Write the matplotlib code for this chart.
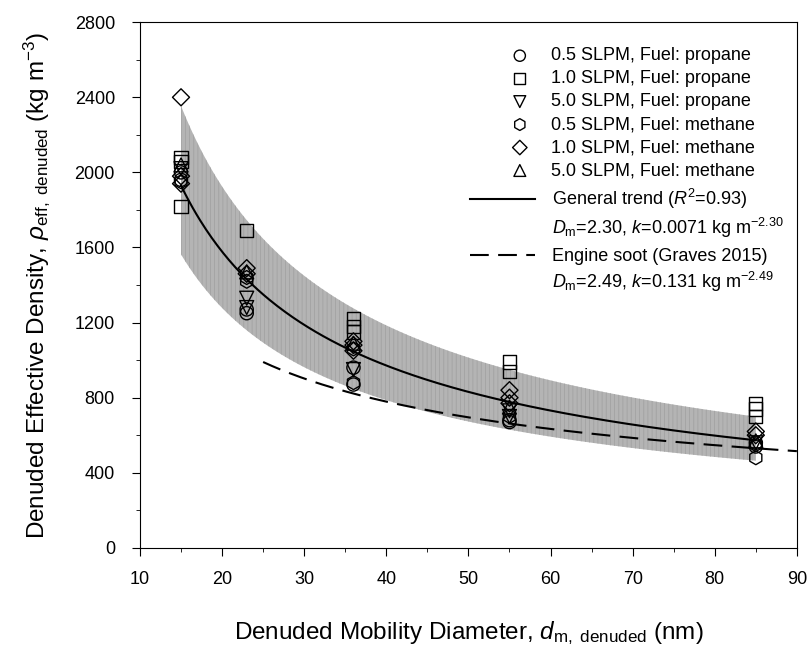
import numpy as np
import matplotlib
matplotlib.use("Agg")
import matplotlib.pyplot as plt
from matplotlib.ticker import MultipleLocator
from matplotlib.lines import Line2D

plt.rcParams['font.family'] = ['Liberation Sans', 'DejaVu Sans']
plt.rcParams['mathtext.fontset'] = 'custom'
plt.rcParams['mathtext.rm'] = 'Liberation Sans'
plt.rcParams['mathtext.it'] = 'Liberation Sans:italic'
plt.rcParams['mathtext.bf'] = 'Liberation Sans:bold'
plt.rcParams['hatch.linewidth'] = 0.6

# ---- data ----
circ_x = [15, 15, 23, 23, 36, 36, 55, 55, 85, 85]
circ_y = [2000, 1960, 1250, 1270, 960, 870, 680, 670, 560, 540]
sq_x = [15, 15, 15, 23, 36, 36, 36, 55, 55, 85, 85, 85]
sq_y = [2080, 2060, 1820, 1690, 1220, 1180, 1150, 990, 940, 770, 740, 700]
tdn_x = [15, 23, 23, 36, 55, 55, 85]
tdn_y = [2020, 1330, 1280, 950, 730, 700, 560]
hex_x = [15, 23, 23, 36, 36, 55, 85, 85]
hex_y = [1950, 1440, 1420, 1060, 880, 700, 550, 480]
dia_x = [15, 15, 15, 23, 23, 36, 36, 36, 55, 55, 55, 85, 85]
dia_y = [2400, 1980, 1940, 1490, 1460, 1100, 1080, 1050, 840, 800, 770, 620, 600]
tup_x = [15, 23, 36, 55, 85]
tup_y = [2040, 1470, 1090, 750, 570]

# fitted trend (power law, exponent Dm-3) anchored to values
trend_Dm = 2.30
trend_at15 = 1930
band_upper = 1.22
band_lower = 0.81
soot_Dm = 2.49
soot_at25 = 990

d_trend = np.linspace(15, 85, 300)
rho_trend = trend_at15 * (d_trend / 15) ** (trend_Dm - 3)
d_soot = np.linspace(25, 90, 300)
rho_soot = soot_at25 * (d_soot / 25) ** (soot_Dm - 3)

fig = plt.figure(figsize=(8.09, 6.53), dpi=100)
ax = fig.add_axes([0.173, 0.161, 0.812, 0.805])

ax.fill_between(d_trend, rho_trend * band_lower, rho_trend * band_upper,
                facecolor='#b4b4b4', edgecolor='#a2a2a2', hatch='||||', linewidth=0, zorder=1)

mk = dict(facecolors='none', edgecolors='black', linewidths=1.0, zorder=3)
s_o = ax.scatter(circ_x, circ_y, marker='o', s=90, **mk)
s_s = ax.scatter(sq_x, sq_y, marker='s', s=90, **mk)
s_v = ax.scatter(tdn_x, tdn_y, marker='v', s=100, **mk)
s_h = ax.scatter(hex_x, hex_y, marker='h', s=100, **mk)
s_d = ax.scatter(dia_x, dia_y, marker='D', s=75, **mk)
s_t = ax.scatter(tup_x, tup_y, marker='^', s=100, **mk)

l_tr, = ax.plot(d_trend, rho_trend, color='black', lw=1.5, zorder=4)
l_so, = ax.plot(d_soot, rho_soot, color='black', lw=1.5, ls=(0, (9, 4.5)), zorder=4)

ax.set_xlim(10, 90)
ax.set_ylim(0, 2800)
ax.xaxis.set_major_locator(MultipleLocator(10))
ax.xaxis.set_minor_locator(MultipleLocator(5))
ax.yaxis.set_major_locator(MultipleLocator(400))
ax.yaxis.set_minor_locator(MultipleLocator(200))
ax.tick_params(which='both', direction='out', top=False, right=False, labelsize=13)
ax.tick_params(which='major', length=6)
ax.tick_params(which='minor', length=3)
ax.tick_params(axis='x', which='major', pad=11)
ax.tick_params(axis='y', which='major', pad=12)

ax.set_xlabel('Denuded Mobility Diameter, $d_{\\rm m,\\ denuded}$ (nm)', fontsize=17.5, labelpad=22)
ax.set_ylabel('Denuded Effective Density, $\\rho_{\\rm eff,\\ denuded}$ (kg m$^{-3}$)', fontsize=17.5, labelpad=16)

fs = 13
blank = Line2D([], [], linestyle='none', marker='none')
leg1 = ax.legend([s_o, s_s, s_v, s_h, s_d, s_t],
                 ['0.5 SLPM, Fuel: propane', '1.0 SLPM, Fuel: propane', '5.0 SLPM, Fuel: propane',
                  '0.5 SLPM, Fuel: methane', '1.0 SLPM, Fuel: methane', '5.0 SLPM, Fuel: methane'],
                 loc='upper left', bbox_to_anchor=(0.559, 0.952), frameon=False, fontsize=fs,
                 handlelength=1.4, handletextpad=1.0, labelspacing=0.33, borderpad=0,
                 borderaxespad=0, scatterpoints=1, markerscale=0.85)
ax.add_artist(leg1)
leg2 = ax.legend([l_tr, blank],
                 ['General trend ($R^2$=0.93)', '$D_{\\rm m}$=2.30, $k$=0.0071 kg m$^{-2.30}$'],
                 loc='upper left', bbox_to_anchor=(0.502, 0.686), frameon=False, fontsize=fs,
                 handlelength=3.6, handletextpad=0.95, labelspacing=0.25, borderpad=0,
                 borderaxespad=0)
ax.add_artist(leg2)
leg3 = ax.legend([l_so, blank],
                 ['Engine soot (Graves 2015)', '$D_{\\rm m}$=2.49, $k$=0.131 kg m$^{-2.49}$'],
                 loc='upper left', bbox_to_anchor=(0.502, 0.570), frameon=False, fontsize=fs,
                 handlelength=3.6, handletextpad=0.95, labelspacing=0.25, borderpad=0,
                 borderaxespad=0)

fig.savefig('out.png', dpi=100)
